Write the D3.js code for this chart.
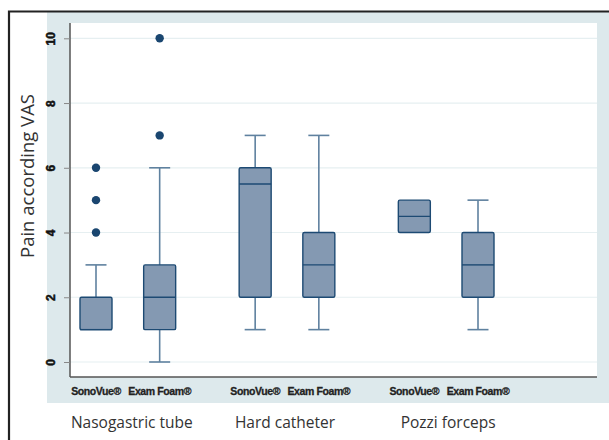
<!DOCTYPE html>
<html>
<head>
<meta charset="utf-8">
<script src="https://cdn.jsdelivr.net/npm/d3@7"></script>
<style>
  body { margin: 0; background: #fff; }
</style>
</head>
<body>
<script>
// groups and boxes
const groups = ["Nasogastric tube", "Hard catheter", "Pozzi forceps"];
const products = ["SonoVue®", "Exam Foam®"];
const q1 = [1, 1, 2, 2, 4, 2];
const medians = [1, 2, 5.5, 3, 4.5, 3];
const q3 = [2, 3, 6, 4, 5, 4];
const whiskLo = [1, 0, 1, 1, 4, 1];
const whiskHi = [3, 6, 7, 7, 5, 5];
const outliers = [[4, 5, 6], [7, 10], [], [], [], []];
const yTicks = [0, 2, 4, 6, 8, 10];

const width = 609, height = 440;

const svg = d3.select("body").append("svg")
    .attr("width", width)
    .attr("height", height)
    .style("font-family", "'Open Sans', sans-serif");

// outer panel (stata style)
svg.append("rect")
    .attr("x", 47).attr("y", 12)
    .attr("width", width - 47).attr("height", 391)
    .attr("fill", "#dde9ec");

// frame
svg.append("path")
    .attr("d", `M9,440 V11.5 H${width}`)
    .attr("fill", "none")
    .attr("stroke", "#222")
    .attr("stroke-width", 2.2);

const plot = { left: 70, right: 597, top: 23, bottom: 377 };

svg.append("rect")
    .attr("x", plot.left).attr("y", plot.top)
    .attr("width", plot.right - plot.left).attr("height", plot.bottom - plot.top)
    .attr("fill", "#fff");

const y = d3.scaleLinear().domain([0, 10]).range([362, 38.3]);

// boxes placed by index with a wider gap between groups
const boxes = d3.range(6).map(i => ({
    i,
    group: Math.floor(i / 2),
    pos: Math.floor(i / 2) * 2.5 + (i % 2)
}));
const x = d3.scaleLinear().domain([0, 6]).range([96, 478]);
const boxW = 32, capW = 21;

// grid
svg.append("g")
    .selectAll("line")
    .data(yTicks)
    .join("line")
    .attr("x1", plot.left).attr("x2", plot.right)
    .attr("y1", d => y(d)).attr("y2", d => y(d))
    .attr("stroke", "#e6eff1")
    .attr("stroke-width", 1.2);

// y axis
const yAxis = d3.axisLeft(y).tickValues(yTicks).tickSize(6).tickPadding(4);
const gy = svg.append("g")
    .attr("transform", `translate(${plot.left},0)`)
    .call(yAxis);
gy.select(".domain")
    .attr("d", `M0,${plot.top}V${plot.bottom}`)
    .attr("stroke", "#555")
    .attr("stroke-width", 1.5);
gy.selectAll(".tick line").attr("stroke", "#888");
gy.selectAll(".tick text")
    .attr("x", null).attr("dy", null)
    .attr("transform", "translate(-18,0) rotate(-90)")
    .attr("text-anchor", "middle")
    .attr("dominant-baseline", "middle")
    .attr("font-family", "'Liberation Sans', Arial, sans-serif")
    .attr("font-weight", "bold")
    .attr("font-size", 12)
    .attr("stroke", "#111")
    .attr("stroke-width", 0.5)
    .attr("fill", "#111");

// x axis line
svg.append("line")
    .attr("x1", plot.left).attr("x2", plot.right)
    .attr("y1", plot.bottom).attr("y2", plot.bottom)
    .attr("stroke", "#555")
    .attr("stroke-width", 1.5);

const boxFill = "#8499b2", boxStroke = "#1d4a73", whiskColor = "#5f819f";

const bg = svg.append("g")
    .selectAll("g")
    .data(boxes)
    .join("g")
    .attr("transform", d => `translate(${x(d.pos)},0)`);

// whiskers
bg.append("line")
    .attr("y1", d => y(whiskHi[d.i])).attr("y2", d => y(q3[d.i]))
    .attr("stroke", whiskColor).attr("stroke-width", 1.6);
bg.append("line")
    .attr("y1", d => y(whiskLo[d.i])).attr("y2", d => y(q1[d.i]))
    .attr("stroke", whiskColor).attr("stroke-width", 1.6);
bg.filter(d => whiskHi[d.i] > q3[d.i]).append("line")
    .attr("x1", -capW / 2).attr("x2", capW / 2)
    .attr("y1", d => y(whiskHi[d.i])).attr("y2", d => y(whiskHi[d.i]))
    .attr("stroke", whiskColor).attr("stroke-width", 1.6);
bg.filter(d => whiskLo[d.i] < q1[d.i]).append("line")
    .attr("x1", -capW / 2).attr("x2", capW / 2)
    .attr("y1", d => y(whiskLo[d.i])).attr("y2", d => y(whiskLo[d.i]))
    .attr("stroke", whiskColor).attr("stroke-width", 1.6);

// box
bg.append("rect")
    .attr("x", -boxW / 2).attr("width", boxW)
    .attr("y", d => y(q3[d.i]))
    .attr("height", d => y(q1[d.i]) - y(q3[d.i]))
    .attr("rx", 1.5)
    .attr("fill", boxFill)
    .attr("stroke", boxStroke)
    .attr("stroke-width", 1.4);
bg.append("line")
    .attr("x1", -boxW / 2).attr("x2", boxW / 2)
    .attr("y1", d => y(medians[d.i])).attr("y2", d => y(medians[d.i]))
    .attr("stroke", boxStroke).attr("stroke-width", 1.4);

// outliers
bg.selectAll("circle")
    .data(d => outliers[d.i])
    .join("circle")
    .attr("cy", v => y(v))
    .attr("r", 4.2)
    .attr("fill", "#1a4670");

// product labels
svg.append("g")
    .selectAll("text")
    .data(boxes)
    .join("text")
    .attr("x", d => x(d.pos))
    .attr("y", 395)
    .attr("text-anchor", "middle")
    .attr("font-family", "'Liberation Sans', Arial, sans-serif")
    .attr("font-weight", "bold")
    .attr("font-size", 10.5)
    .attr("letter-spacing", -0.4)
    .attr("stroke", "#222")
    .attr("stroke-width", 0.3)
    .attr("fill", "#222")
    .text(d => products[d.i % 2]);

// group labels
svg.append("g")
    .selectAll("text")
    .data(groups)
    .join("text")
    .attr("x", (d, g) => (x(g * 2.5) + x(g * 2.5 + 1)) / 2 + [4, -2, 2][g])
    .attr("y", 428)
    .attr("text-anchor", "middle")
    .attr("font-size", 15.5)
    .attr("fill", "#333")
    .text(d => d);

// y title
svg.append("text")
    .attr("transform", "translate(34,176) rotate(-90)")
    .attr("text-anchor", "middle")
    .attr("font-size", 18.5)
    .attr("fill", "#333")
    .text("Pain according VAS");
</script>
</body>
</html>
